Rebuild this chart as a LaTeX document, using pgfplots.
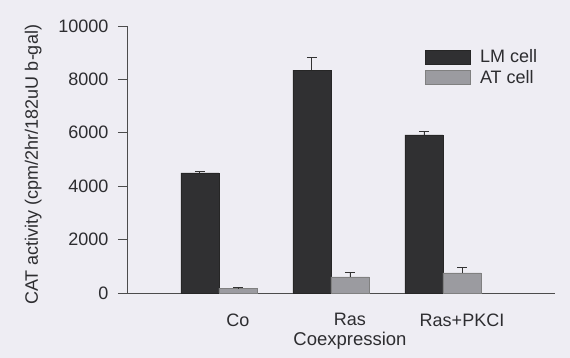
\documentclass[border=0pt]{standalone}
\usepackage{pgfplots}
\pgfplotsset{compat=1.18}
\usepackage{fontspec}
\setmainfont{Liberation Sans}
\definecolor{bg}{RGB}{238,237,243}
\definecolor{lm}{RGB}{48,48,50}
\definecolor{at}{RGB}{155,155,160}
\definecolor{txt}{RGB}{45,45,48}
\begin{document}
\begin{tikzpicture}[x=1pt,y=1pt]
\fill[bg] (0,0) rectangle (570,358);
\begin{axis}[
  at={(127pt,65pt)}, anchor=south west,
  scale only axis, width=428pt, height=267pt,
  xmin=-0.99, xmax=2.83, ymin=0, ymax=10000,
  axis lines=left, axis line style={-, draw=black!70, line width=0.8pt},
  xtick={0,1,2}, xticklabels={Co,Ras,Ras+PKCI},
  major x tick style={draw=none},
  ytick={0,2000,4000,6000,8000,10000},
  scaled y ticks=false,
  yticklabel style={/pgf/number format/1000 sep={}, xshift=-6pt},
  /pgf/number format/assume math mode=true,
  tick align=outside, major tick length=9pt,
  tick style={draw=black!70, line width=0.8pt},
  ticklabel style={font=\fontsize{18}{21}\selectfont, text=txt},
  xticklabel style={yshift=-8pt},
  label style={font=\fontsize{18.5}{22}\selectfont, text=txt},
  xlabel={Coexpression},
  xlabel style={at={(axis description cs:0.521,-0.18)}, anchor=center},
  ylabel={CAT activity (cpm/2hr/182uU b-gal)},
  ylabel style={at={(axis description cs:-0.219,0.48)}, anchor=center, font=\fontsize{18}{21}\selectfont},
  ybar, bar width=0.34, bar shift=0pt,
  error bars/y dir=plus, error bars/y explicit,
  error bars/error bar style={line width=0.8pt, black!80},
  error bars/error mark options={rotate=90, mark size=5pt, line width=0.8pt, black!80},
  legend style={at={(axis description cs:0.695,0.92)}, anchor=north west,
    draw=none, fill=none, inner sep=0pt, row sep=2pt,
    font=\fontsize{18}{21}\selectfont, text=txt,
    /tikz/every odd column/.append style={column sep=8pt},
    legend cell align=left},
  legend image code/.code={\fill[#1] (0pt,-7pt) rectangle (45pt,7pt);},
  clip=false,
]
\addplot[fill=lm, draw=black!85] coordinates {(-0.34,4500) +- (0,60) (0.66,8350) +- (0,480) (1.66,5920) +- (0,150)};
\addlegendentry{LM cell}
\addplot[fill=at, draw=black!50] coordinates {(0,180) +- (0,20) (1,600) +- (0,180) (2,750) +- (0,190)};
\addlegendentry{AT cell}
\end{axis}
\end{tikzpicture}
\end{document}
